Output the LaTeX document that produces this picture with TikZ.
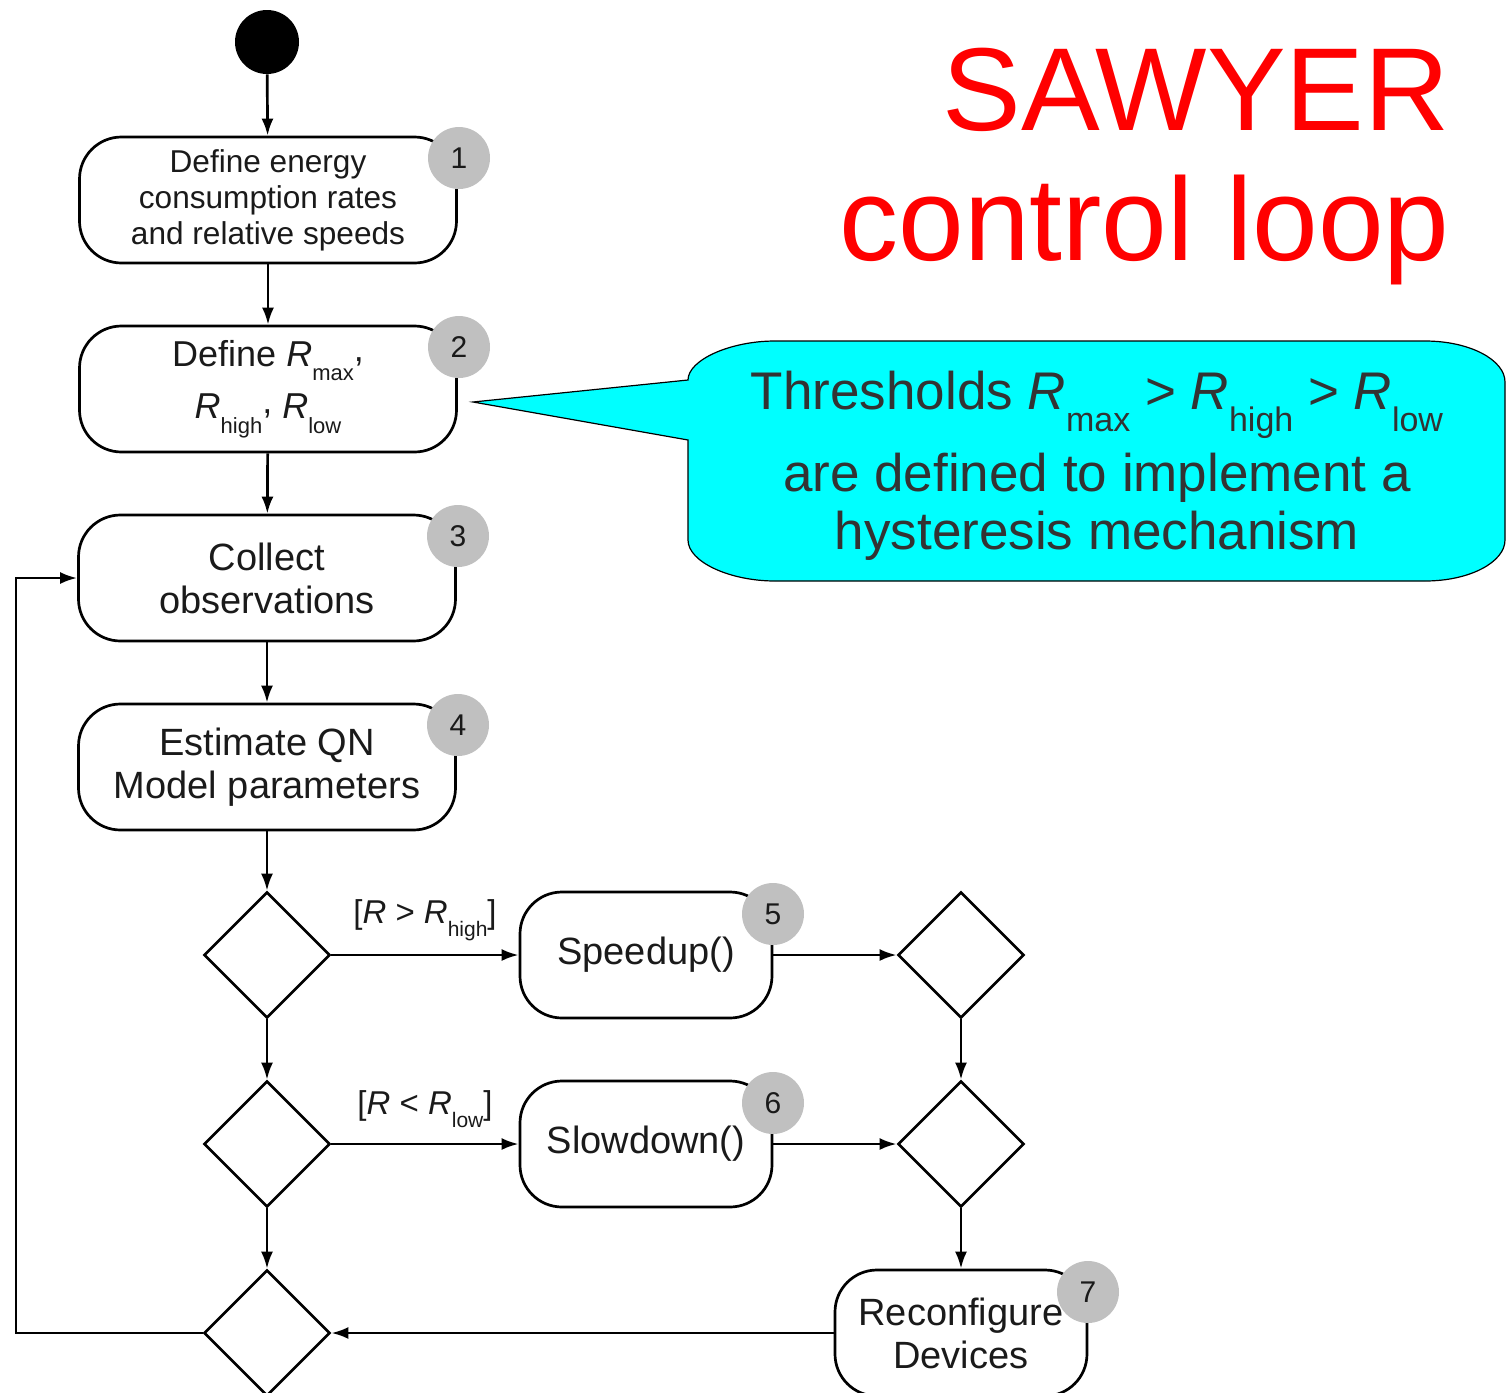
\documentclass[tikz,border=0pt]{standalone}
\usepackage{fontspec}
\setmainfont{Liberation Sans}
\usetikzlibrary{shapes.geometric,arrows.meta}
\definecolor{badgegray}{HTML}{C0C0C0}
\definecolor{txt}{HTML}{1A1A1A}
\definecolor{ctxt}{HTML}{333333}
\definecolor{callcyan}{HTML}{00FFFF}
\newcommand\sbx[3]{\raisebox{#1}{\fontsize{#2}{#2}\selectfont #3}}
\begin{document}
\begin{tikzpicture}[x=0.5pt,y=-0.5pt,
  act/.style={draw, line width=1.35pt, rounded corners=21pt, minimum width=188.5pt,
    minimum height=63pt, align=center, text=txt, inner sep=0pt},
  smallact/.style={act, minimum width=126pt},
  dec/.style={draw, diamond, line width=1.35pt, minimum width=63pt, minimum height=63pt,
    inner sep=0pt, aspect=1},
  badge/.style={circle, fill=badgegray, minimum size=31pt, inner sep=0pt,
    font=\fontsize{15}{15}\selectfont, text=txt},
  arr/.style={line width=1.35pt, -{Latex[length=8.5pt,width=6pt]}},
  guard/.style={text=txt, font=\fontsize{16.5}{16.5}\selectfont, inner sep=0pt},
]
\useasboundingbox (0,0) rectangle (1512,1393);

% title
\node[anchor=base east, text=red, font=\fontsize{59}{59}\selectfont, inner sep=0pt] (title1) at (1450,130) {SAWYER};
\node[anchor=base east, text=red, font=\fontsize{59}{59}\selectfont, inner sep=0pt] (title2) at (1450,260) {control loop};

% start
\node[circle, fill=black, minimum size=32pt, inner sep=0pt] (start) at (267,42) {};

% activities
\node[act, font=\fontsize{15.8}{18}\selectfont] (b1) at (268,200)
  {Define energy\\consumption rates\\and relative speeds};
\node[act, font=\fontsize{18}{26}\selectfont] (b2) at (268,389)
  {Define \textit{R}\sbx{-7pt}{11pt}{max}\raisebox{2.5pt}{,}\\\textit{R}\sbx{-7.5pt}{11pt}{high}\raisebox{2.5pt}{,} \textit{R}\sbx{-7.5pt}{11pt}{low}};
\node[act, font=\fontsize{19}{21.5}\selectfont] (b3) at (267,578) {Collect\\observations};
\node[act, font=\fontsize{19}{21.5}\selectfont] (b4) at (267,767) {Estimate QN\\Model parameters};
\node[smallact, font=\fontsize{19}{21.5}\selectfont] (b5) at (646,955) {Speedup()};
\node[smallact, font=\fontsize{19}{21.5}\selectfont] (b6) at (646,1144) {Slowdown()};
\node[smallact, font=\fontsize{19}{21.5}\selectfont] (b7) at (961,1333) {Reconfigure\\Devices};

% decisions
\node[dec] (d1) at (267,955) {};
\node[dec] (d2) at (267,1144) {};
\node[dec] (d3) at (267,1333) {};
\node[dec] (d4) at (961,955) {};
\node[dec] (d5) at (961,1144) {};

% badges
\node[badge] (n1) at (459,158) {1};
\node[badge] (n2) at (459,347) {2};
\node[badge] (n3) at (458,536) {3};
\node[badge] (n4) at (458,725) {4};
\node[badge] (n5) at (773,914) {5};
\node[badge] (n6) at (773,1103) {6};
\node[badge] (n7) at (1088,1292) {7};

% connectors
\draw[arr] (start) -- (b1);
\draw[arr] (b1) -- (b2);
\draw[arr] (b2) -- (b3);
\draw[arr] (b3) -- (b4);
\draw[arr] (b4) -- (d1);
\draw[arr] (d1) -- (d2);
\draw[arr] (d2) -- (d3);
\draw[arr] (d1) -- (b5);
\draw[arr] (d2) -- (b6);
\draw[arr] (b5) -- (d4);
\draw[arr] (b6) -- (d5);
\draw[arr] (d4) -- (d5);
\draw[arr] (d5) -- (b7);
\draw[arr] (b7) -- (d3);
\coordinate (loopc) at (16,1333);
\draw[arr] (d3.west) -- (loopc) |- (b3.west);

% guards
\node[guard] (g1) at (425,920) {[\textit{R} > \textit{R}\sbx{-6.5pt}{10.5pt}{high}]};
\node[guard] (g2) at (425,1109) {[\textit{R} < \textit{R}\sbx{-6.5pt}{10.5pt}{low}]};

% callout
\draw[fill=callcyan, line width=0.6pt]
  (688,380) -- (473,402) -- (688,440) -- (688,540)
  .. controls (688,562) and (730,581) .. (775,581)
  -- (1425,581)
  .. controls (1470,581) and (1505,562) .. (1505,540)
  -- (1505,382)
  .. controls (1505,360) and (1470,341) .. (1425,341)
  -- (775,341)
  .. controls (730,341) and (688,360) .. (688,380) -- cycle;
\node[align=center, text=ctxt, font=\fontsize{26.5}{29}\selectfont, inner sep=0pt] (callout) at (1097,466)
  {Thresholds \textit{R}\sbx{-11pt}{17pt}{max} > \textit{R}\sbx{-11pt}{17pt}{high} > \textit{R}\sbx{-11pt}{17pt}{low}\\[6pt]
   are defined to implement a\\hysteresis mechanism};
\end{tikzpicture}
\end{document}
